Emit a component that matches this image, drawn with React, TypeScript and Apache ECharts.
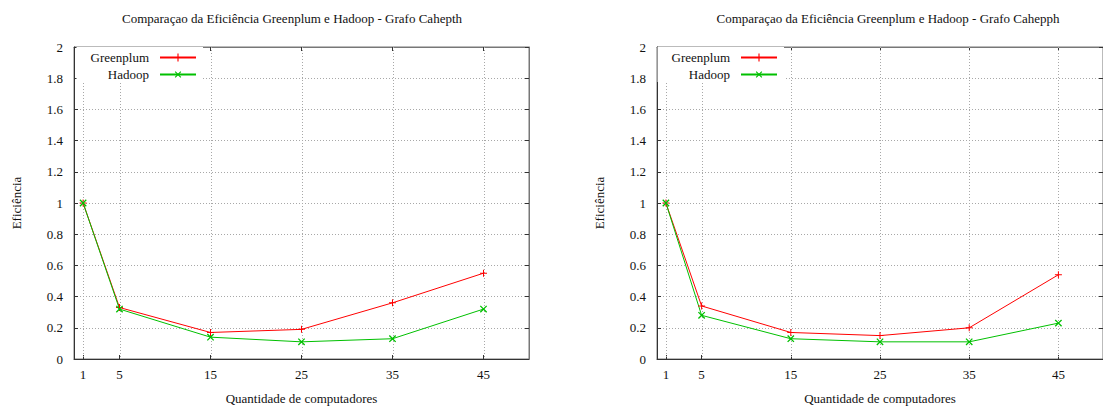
import { useEffect, useRef } from 'react';
import * as echarts from 'echarts';

const xValues = [1, 5, 15, 25, 35, 45];
const greenplumCahepth = [1.0, 0.33, 0.17, 0.19, 0.36, 0.55];
const hadoopCahepth = [1.0, 0.32, 0.14, 0.11, 0.13, 0.32];
const greenplumCahepph = [1.0, 0.34, 0.17, 0.15, 0.2, 0.54];
const hadoopCahepph = [1.0, 0.28, 0.13, 0.11, 0.11, 0.23];
const titles = [
  'Comparaçao da Eficiência Greenplum e Hadoop - Grafo Cahepth',
  'Comparaçao da Eficiência Greenplum e Hadoop - Grafo Cahepph',
];
const seriesNames = ['Greenplum', 'Hadoop'];
const xName = 'Quantidade de computadores';
const yName = 'Eficiência';
const xRange = [0, 50];
const yRange = [0, 2];
const yStep = 0.2;

const FONT = '"Liberation Serif", "DejaVu Serif", serif';
const TXT = '#111';
const RED = '#ff0000';
const GREEN = '#00c000';
const GRIDC = '#a8a8a8';
const PLUS = 'path://M3,0H4V3H7V4H4V7H3V4H0V3H3Z';

const panels = [
  { gp: greenplumCahepth, hd: hadoopCahepth, title: titles[0], gridLeft: 74, gridWidth: 455, titleX: 292, legendRight: 900 },
  { gp: greenplumCahepph, hd: hadoopCahepph, title: titles[1], gridLeft: 657, gridWidth: 456, titleX: 888, legendRight: 319 },
];

export default function App() {
  const ref = useRef<HTMLDivElement>(null);
  useEffect(() => {
    if (!ref.current) return;
    const chart = echarts.init(ref.current, undefined, { renderer: 'svg' });
    const textStyle = { fontFamily: FONT, fontSize: 13, color: TXT };
    const gridLine = { show: true, lineStyle: { color: GRIDC, type: [1, 2], width: 1 } };
    const grid: any[] = [];
    const xAxis: any[] = [];
    const yAxis: any[] = [];
    const series: any[] = [];
    const title: any[] = [];
    const legend: any[] = [];
    panels.forEach((p, i) => {
      grid.push({ left: p.gridLeft, top: 47, width: p.gridWidth, height: 315, show: true, borderColor: '#777', borderWidth: 1, backgroundColor: 'transparent' });
      xAxis.push({
        type: 'value', gridIndex: i, min: xRange[0], max: xRange[1], position: 'bottom',
        axisLine: { show: true, onZero: false, lineStyle: { color: '#333', width: 1 } },
        axisTick: { show: true, inside: true, length: 4, customValues: xValues, lineStyle: { color: '#333' } },
        axisLabel: { customValues: xValues, margin: 9, ...textStyle },
        splitLine: { show: false },
        name: xName, nameLocation: 'middle', nameGap: 33, nameTextStyle: textStyle,
      });
      xAxis.push({
        type: 'value', gridIndex: i, min: xRange[0], max: xRange[1], position: 'top',
        axisLine: { show: true, onZero: false, lineStyle: { color: '#777', width: 1 } },
        axisTick: { show: true, inside: true, length: 4, customValues: xValues, lineStyle: { color: '#333' } },
        axisLabel: { show: false },
        splitLine: { show: false },
      });
      yAxis.push({
        type: 'value', gridIndex: i, min: yRange[0], max: yRange[1], interval: yStep, position: 'left',
        axisLine: { show: true, onZero: false, lineStyle: { color: '#333', width: 1 } },
        axisTick: { show: true, inside: true, length: 4, lineStyle: { color: '#333' } },
        axisLabel: { margin: 11, ...textStyle },
        splitLine: gridLine,
        name: yName, nameLocation: 'middle', nameGap: 51, nameRotate: 90, nameTextStyle: textStyle,
      });
      yAxis.push({
        type: 'value', gridIndex: i, min: yRange[0], max: yRange[1], interval: yStep, position: 'right',
        axisLine: { show: true, onZero: false, lineStyle: { color: '#777', width: 1 } },
        axisTick: { show: true, inside: true, length: 4, lineStyle: { color: '#333' } },
        axisLabel: { show: false },
        splitLine: { show: false },
      });
      series.push({
        type: 'custom', name: 'vgrid' + i, xAxisIndex: 2 * i, yAxisIndex: 2 * i,
        data: xValues.map((v) => [v, yRange[0]]),
        encode: { x: 0, y: 1 },
        silent: true, z: 1, clip: false,
        renderItem: (_params: any, api: any) => {
          const v = api.value(0);
          const top = api.coord([v, yRange[1]]);
          const bot = api.coord([v, yRange[0]]);
          const x = Math.round(top[0]) + 0.5;
          return {
            type: 'line',
            shape: { x1: x, y1: top[1], x2: x, y2: bot[1] },
            style: { stroke: GRIDC, lineWidth: 1, lineDash: [1, 2] },
          };
        },
      });
      series.push({
        type: 'line', name: seriesNames[0], xAxisIndex: 2 * i, yAxisIndex: 2 * i,
        data: xValues.map((x, j) => [x, p.gp[j]]),
        symbol: PLUS, symbolSize: 7, showAllSymbol: true,
        lineStyle: { color: RED, width: 1 }, itemStyle: { color: RED },
        emphasis: { disabled: true }, z: 3,
      });
      series.push({
        type: 'line', name: seriesNames[1], xAxisIndex: 2 * i, yAxisIndex: 2 * i,
        data: xValues.map((x, j) => [x, p.hd[j]]),
        symbol: PLUS, symbolSize: 9, symbolRotate: 45, showAllSymbol: true,
        lineStyle: { color: GREEN, width: 1 }, itemStyle: { color: GREEN },
        emphasis: { disabled: true }, z: 3,
      });
      title.push({
        text: p.title, left: p.titleX, top: 12, textAlign: 'center', padding: 0,
        textStyle: { ...textStyle, fontWeight: 'normal' },
      });
      legend.push({
        orient: 'vertical', align: 'right', right: p.legendRight, top: 47,
        padding: [4, 6, 1, 14], backgroundColor: '#fff',
        itemWidth: 36, itemHeight: 10, itemGap: 4,
        data: seriesNames, selectedMode: false,
        textStyle: { ...textStyle, padding: [0, 6, 0, 0] },
      });
    });
    chart.setOption({
      animation: false,
      backgroundColor: '#fff',
      title, legend, grid, xAxis, yAxis, series,
      tooltip: { show: false },
    });
    return () => chart.dispose();
  }, []);
  return <div ref={ref} style={{ position: 'absolute', left: 0, top: 0, width: 1103, height: 410 }} />;
}
